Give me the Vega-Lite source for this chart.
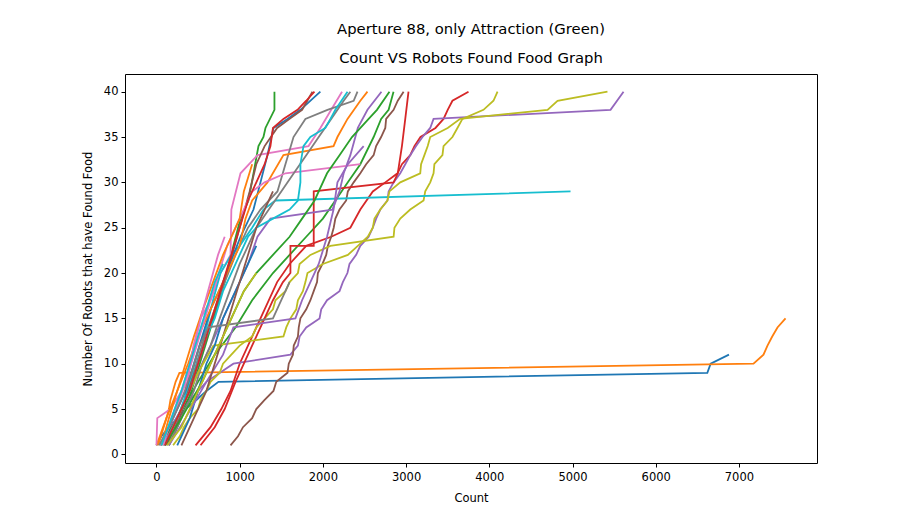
{
  "$schema": "https://vega.github.io/schema/vega-lite/v6.json",
  "width": 692,
  "height": 389,
  "autosize": "none",
  "padding": {"left": 125, "top": 74, "right": 89, "bottom": 59},
  "background": "white",
  "title": {
    "text": ["Aperture 88, only Attraction (Green)", "Count VS Robots Found Food Graph"],
    "anchor": "middle",
    "frame": "group",
    "font": "DejaVu Sans",
    "fontSize": 14.8,
    "fontWeight": "normal",
    "color": "#000",
    "lineHeight": 29,
    "offset": 8
  },
  "data": {
    "values": [
      {"s":"s01","x":0,"y":1},{"s":"s01","x":60,"y":2},{"s":"s01","x":150,"y":3},{"s":"s01","x":250,"y":4},{"s":"s01","x":350,"y":5},{"s":"s01","x":480,"y":6},{"s":"s01","x":600,"y":7},{"s":"s01","x":745,"y":8},{"s":"s01","x":6620,"y":9},{"s":"s01","x":6660,"y":10},{"s":"s01","x":6880,"y":11},

      {"s":"s02","x":0,"y":1},{"s":"s02","x":40,"y":2},{"s":"s02","x":80,"y":3},{"s":"s02","x":120,"y":4},{"s":"s02","x":150,"y":5},{"s":"s02","x":168,"y":6},{"s":"s02","x":230,"y":8},{"s":"s02","x":276,"y":9},{"s":"s02","x":7175,"y":10},{"s":"s02","x":7295,"y":11},{"s":"s02","x":7343,"y":12},{"s":"s02","x":7400,"y":13},{"s":"s02","x":7463,"y":14},{"s":"s02","x":7560,"y":15},

      {"s":"s03","x":150,"y":1},{"s":"s03","x":300,"y":4},{"s":"s03","x":420,"y":7},{"s":"s03","x":520,"y":10},{"s":"s03","x":620,"y":13},{"s":"s03","x":720,"y":16},{"s":"s03","x":820,"y":19},{"s":"s03","x":925,"y":23},{"s":"s03","x":1010,"y":26},{"s":"s03","x":1106,"y":28},{"s":"s03","x":1166,"y":31},{"s":"s03","x":1226,"y":34},{"s":"s03","x":1286,"y":35},{"s":"s03","x":1310,"y":36},{"s":"s03","x":1418,"y":38},{"s":"s03","x":1418,"y":40},

      {"s":"s04","x":470,"y":1},{"s":"s04","x":650,"y":3},{"s":"s04","x":780,"y":5},{"s":"s04","x":890,"y":7},{"s":"s04","x":1000,"y":10},{"s":"s04","x":1150,"y":13},{"s":"s04","x":1300,"y":16},{"s":"s04","x":1450,"y":19},{"s":"s04","x":1600,"y":21},{"s":"s04","x":1800,"y":23},{"s":"s04","x":2100,"y":24},{"s":"s04","x":2330,"y":25},{"s":"s04","x":2450,"y":27},{"s":"s04","x":2600,"y":29},{"s":"s04","x":2750,"y":30},{"s":"s04","x":2897,"y":31},{"s":"s04","x":2950,"y":32},{"s":"s04","x":3050,"y":33},{"s":"s04","x":3100,"y":34},{"s":"s04","x":3173,"y":35},{"s":"s04","x":3353,"y":36},{"s":"s04","x":3450,"y":37},{"s":"s04","x":3500,"y":38},{"s":"s04","x":3557,"y":39},{"s":"s04","x":3750,"y":40},

      {"s":"s05","x":50,"y":1},{"s":"s05","x":300,"y":5},{"s":"s05","x":600,"y":8},{"s":"s05","x":925,"y":10},{"s":"s05","x":1610,"y":11},{"s":"s05","x":1700,"y":12},{"s":"s05","x":1720,"y":13},{"s":"s05","x":1800,"y":14},{"s":"s05","x":1960,"y":15},{"s":"s05","x":1980,"y":16},{"s":"s05","x":2050,"y":17},{"s":"s05","x":2200,"y":18},{"s":"s05","x":2240,"y":19},{"s":"s05","x":2295,"y":20},{"s":"s05","x":2320,"y":21},{"s":"s05","x":2400,"y":22},{"s":"s05","x":2450,"y":23},{"s":"s05","x":2550,"y":24},{"s":"s05","x":2600,"y":25},{"s":"s05","x":2640,"y":26},{"s":"s05","x":2690,"y":27},{"s":"s05","x":2776,"y":28},{"s":"s05","x":2790,"y":29},{"s":"s05","x":2850,"y":30},{"s":"s05","x":2930,"y":31},{"s":"s05","x":2990,"y":32},{"s":"s05","x":3050,"y":33},{"s":"s05","x":3120,"y":34},{"s":"s05","x":3197,"y":35},{"s":"s05","x":3290,"y":36},{"s":"s05","x":3330,"y":37},{"s":"s05","x":5457,"y":38},{"s":"s05","x":5613,"y":40},

      {"s":"s06","x":890,"y":1},{"s":"s06","x":980,"y":2},{"s":"s06","x":1040,"y":3},{"s":"s06","x":1150,"y":4},{"s":"s06","x":1200,"y":5},{"s":"s06","x":1300,"y":6},{"s":"s06","x":1406,"y":7},{"s":"s06","x":1440,"y":8},{"s":"s06","x":1575,"y":9},{"s":"s06","x":1590,"y":10},{"s":"s06","x":1640,"y":11},{"s":"s06","x":1650,"y":12},{"s":"s06","x":1700,"y":13},{"s":"s06","x":1710,"y":14},{"s":"s06","x":1730,"y":15},{"s":"s06","x":1800,"y":16},{"s":"s06","x":1850,"y":17},{"s":"s06","x":1890,"y":18},{"s":"s06","x":1930,"y":19},{"s":"s06","x":1940,"y":20},{"s":"s06","x":1995,"y":21},{"s":"s06","x":2040,"y":22},{"s":"s06","x":2060,"y":23},{"s":"s06","x":2100,"y":24},{"s":"s06","x":2130,"y":25},{"s":"s06","x":2150,"y":26},{"s":"s06","x":2200,"y":27},{"s":"s06","x":2280,"y":28},{"s":"s06","x":2300,"y":29},{"s":"s06","x":2370,"y":30},{"s":"s06","x":2450,"y":31},{"s":"s06","x":2520,"y":32},{"s":"s06","x":2610,"y":33},{"s":"s06","x":2640,"y":34},{"s":"s06","x":2700,"y":35},{"s":"s06","x":2750,"y":36},{"s":"s06","x":2760,"y":37},{"s":"s06","x":2850,"y":38},{"s":"s06","x":2900,"y":39},{"s":"s06","x":2970,"y":40},

      {"s":"s07","x":0,"y":1},{"s":"s07","x":10,"y":4},{"s":"s07","x":168,"y":5},{"s":"s07","x":373,"y":8},{"s":"s07","x":445,"y":12},{"s":"s07","x":530,"y":15},{"s":"s07","x":650,"y":17},{"s":"s07","x":770,"y":20},{"s":"s07","x":890,"y":22},{"s":"s07","x":900,"y":27},{"s":"s07","x":1010,"y":31},{"s":"s07","x":1214,"y":33},{"s":"s07","x":1827,"y":34},{"s":"s07","x":1970,"y":36},{"s":"s07","x":2100,"y":38},{"s":"s07","x":2230,"y":40},

      {"s":"s08","x":100,"y":1},{"s":"s08","x":250,"y":4},{"s":"s08","x":380,"y":7},{"s":"s08","x":480,"y":10},{"s":"s08","x":580,"y":13},{"s":"s08","x":700,"y":16},{"s":"s08","x":820,"y":19},{"s":"s08","x":950,"y":22},{"s":"s08","x":1100,"y":25},{"s":"s08","x":1250,"y":27},{"s":"s08","x":1454,"y":29},{"s":"s08","x":1550,"y":32},{"s":"s08","x":1647,"y":35},{"s":"s08","x":1790,"y":37},{"s":"s08","x":2055,"y":38},{"s":"s08","x":2370,"y":39},{"s":"s08","x":2416,"y":40},

      {"s":"s09","x":200,"y":1},{"s":"s09","x":280,"y":2},{"s":"s09","x":330,"y":3},{"s":"s09","x":400,"y":4},{"s":"s09","x":500,"y":5},{"s":"s09","x":530,"y":6},{"s":"s09","x":600,"y":7},{"s":"s09","x":650,"y":8},{"s":"s09","x":760,"y":9},{"s":"s09","x":800,"y":10},{"s":"s09","x":900,"y":11},{"s":"s09","x":1000,"y":12},{"s":"s09","x":1150,"y":13},{"s":"s09","x":1200,"y":14},{"s":"s09","x":1300,"y":15},{"s":"s09","x":1400,"y":16},{"s":"s09","x":1430,"y":17},{"s":"s09","x":1550,"y":18},{"s":"s09","x":1600,"y":19},{"s":"s09","x":1700,"y":20},{"s":"s09","x":1720,"y":21},{"s":"s09","x":1850,"y":22},{"s":"s09","x":2090,"y":23},{"s":"s09","x":2850,"y":24},{"s":"s09","x":2860,"y":25},{"s":"s09","x":2930,"y":26},{"s":"s09","x":3050,"y":27},{"s":"s09","x":3210,"y":28},{"s":"s09","x":3230,"y":29},{"s":"s09","x":3290,"y":30},{"s":"s09","x":3330,"y":31},{"s":"s09","x":3340,"y":32},{"s":"s09","x":3437,"y":33},{"s":"s09","x":3450,"y":34},{"s":"s09","x":3557,"y":35},{"s":"s09","x":3617,"y":36},{"s":"s09","x":3677,"y":37},{"s":"s09","x":3930,"y":38},{"s":"s09","x":4050,"y":39},{"s":"s09","x":4099,"y":40},

      {"s":"s10","x":100,"y":1},{"s":"s10","x":220,"y":3},{"s":"s10","x":330,"y":6},{"s":"s10","x":430,"y":9},{"s":"s10","x":520,"y":12},{"s":"s10","x":600,"y":14},{"s":"s10","x":680,"y":17},{"s":"s10","x":770,"y":20},{"s":"s10","x":900,"y":22},{"s":"s10","x":1000,"y":23},{"s":"s10","x":1150,"y":25},{"s":"s10","x":1286,"y":27},{"s":"s10","x":1430,"y":28},{"s":"s10","x":4976,"y":29},

      {"s":"s11","x":50,"y":1},{"s":"s11","x":200,"y":4},{"s":"s11","x":350,"y":7},{"s":"s11","x":450,"y":10},{"s":"s11","x":550,"y":13},{"s":"s11","x":650,"y":16},{"s":"s11","x":800,"y":19},{"s":"s11","x":925,"y":22},{"s":"s11","x":1010,"y":24},{"s":"s11","x":1166,"y":27},{"s":"s11","x":1250,"y":30},{"s":"s11","x":1334,"y":33},{"s":"s11","x":1406,"y":36},{"s":"s11","x":1575,"y":37},{"s":"s11","x":1730,"y":38},{"s":"s11","x":1970,"y":40},

      {"s":"s12","x":20,"y":1},{"s":"s12","x":120,"y":4},{"s":"s12","x":250,"y":7},{"s":"s12","x":380,"y":10},{"s":"s12","x":500,"y":13},{"s":"s12","x":650,"y":16},{"s":"s12","x":800,"y":19},{"s":"s12","x":900,"y":21},{"s":"s12","x":1000,"y":23},{"s":"s12","x":1070,"y":26},{"s":"s12","x":1150,"y":28},{"s":"s12","x":1334,"y":30},{"s":"s12","x":1526,"y":33},{"s":"s12","x":2128,"y":34},{"s":"s12","x":2175,"y":35},{"s":"s12","x":2296,"y":37},{"s":"s12","x":2450,"y":39},{"s":"s12","x":2536,"y":40},

      {"s":"s13","x":50,"y":1},{"s":"s13","x":250,"y":4},{"s":"s13","x":500,"y":8},{"s":"s13","x":700,"y":11},{"s":"s13","x":950,"y":14},{"s":"s13","x":1150,"y":17},{"s":"s13","x":1400,"y":20},{"s":"s13","x":1600,"y":22},{"s":"s13","x":1800,"y":24},{"s":"s13","x":2000,"y":26},{"s":"s13","x":2150,"y":28},{"s":"s13","x":2300,"y":30},{"s":"s13","x":2450,"y":32},{"s":"s13","x":2610,"y":35},{"s":"s13","x":2700,"y":37},{"s":"s13","x":2790,"y":38},{"s":"s13","x":2849,"y":40},

      {"s":"s14","x":530,"y":1},{"s":"s14","x":700,"y":3},{"s":"s14","x":820,"y":5},{"s":"s14","x":950,"y":8},{"s":"s14","x":1100,"y":11},{"s":"s14","x":1250,"y":14},{"s":"s14","x":1400,"y":17},{"s":"s14","x":1520,"y":19},{"s":"s14","x":1610,"y":20},{"s":"s14","x":1610,"y":23},{"s":"s14","x":1890,"y":23},{"s":"s14","x":1890,"y":29},{"s":"s14","x":2850,"y":30},{"s":"s14","x":2900,"y":31},{"s":"s14","x":2950,"y":34},{"s":"s14","x":2990,"y":37},{"s":"s14","x":3029,"y":40},

      {"s":"s15","x":80,"y":1},{"s":"s15","x":250,"y":4},{"s":"s15","x":450,"y":8},{"s":"s15","x":650,"y":12},{"s":"s15","x":850,"y":16},{"s":"s15","x":1000,"y":19},{"s":"s15","x":1100,"y":21},{"s":"s15","x":1214,"y":24},{"s":"s15","x":1370,"y":26},{"s":"s15","x":2115,"y":27},{"s":"s15","x":2200,"y":29},{"s":"s15","x":2250,"y":31},{"s":"s15","x":2330,"y":33},{"s":"s15","x":2420,"y":36},{"s":"s15","x":2536,"y":38},{"s":"s15","x":2704,"y":40},

      {"s":"s16","x":120,"y":1},{"s":"s16","x":280,"y":4},{"s":"s16","x":420,"y":8},{"s":"s16","x":540,"y":11},{"s":"s16","x":640,"y":14},{"s":"s16","x":740,"y":17},{"s":"s16","x":840,"y":20},{"s":"s16","x":940,"y":23},{"s":"s16","x":1030,"y":26},{"s":"s16","x":1120,"y":29},{"s":"s16","x":1200,"y":32},{"s":"s16","x":1300,"y":34},{"s":"s16","x":1450,"y":36},{"s":"s16","x":1600,"y":37},{"s":"s16","x":1750,"y":38},{"s":"s16","x":1875,"y":40},

      {"s":"s17","x":50,"y":1},{"s":"s17","x":200,"y":4},{"s":"s17","x":350,"y":8},{"s":"s17","x":450,"y":11},{"s":"s17","x":550,"y":14},{"s":"s17","x":650,"y":17},{"s":"s17","x":750,"y":20},{"s":"s17","x":850,"y":23},{"s":"s17","x":950,"y":25},{"s":"s17","x":1050,"y":27},{"s":"s17","x":1150,"y":29},{"s":"s17","x":1300,"y":30},{"s":"s17","x":1550,"y":31},{"s":"s17","x":2450,"y":32},

      {"s":"s18","x":150,"y":1},{"s":"s18","x":300,"y":4},{"s":"s18","x":450,"y":7},{"s":"s18","x":550,"y":10},{"s":"s18","x":650,"y":12},{"s":"s18","x":760,"y":15},{"s":"s18","x":880,"y":18},{"s":"s18","x":1000,"y":21},{"s":"s18","x":1100,"y":23},{"s":"s18","x":1200,"y":25},{"s":"s18","x":1350,"y":27},{"s":"s18","x":1500,"y":29},{"s":"s18","x":1650,"y":31},{"s":"s18","x":1800,"y":33},{"s":"s18","x":1950,"y":35},{"s":"s18","x":2100,"y":37},{"s":"s18","x":2250,"y":39},{"s":"s18","x":2330,"y":40},

      {"s":"s19","x":100,"y":1},{"s":"s19","x":300,"y":5},{"s":"s19","x":500,"y":9},{"s":"s19","x":685,"y":12},{"s":"s19","x":1526,"y":13},{"s":"s19","x":1560,"y":14},{"s":"s19","x":1610,"y":15},{"s":"s19","x":1680,"y":16},{"s":"s19","x":1700,"y":17},{"s":"s19","x":1760,"y":18},{"s":"s19","x":1790,"y":19},{"s":"s19","x":1815,"y":20},{"s":"s19","x":2000,"y":21},{"s":"s19","x":2300,"y":22},{"s":"s19","x":2420,"y":23},{"s":"s19","x":2540,"y":24},{"s":"s19","x":2600,"y":25},{"s":"s19","x":2620,"y":26},{"s":"s19","x":2690,"y":27},{"s":"s19","x":2776,"y":28},{"s":"s19","x":2800,"y":29},{"s":"s19","x":2930,"y":30},{"s":"s19","x":3170,"y":31},{"s":"s19","x":3180,"y":32},{"s":"s19","x":3220,"y":33},{"s":"s19","x":3260,"y":34},{"s":"s19","x":3290,"y":35},{"s":"s19","x":3500,"y":36},{"s":"s19","x":3650,"y":37},{"s":"s19","x":4700,"y":38},{"s":"s19","x":4820,"y":39},{"s":"s19","x":5420,"y":40},

      {"s":"s20","x":100,"y":1},{"s":"s20","x":250,"y":4},{"s":"s20","x":400,"y":7},{"s":"s20","x":500,"y":10},{"s":"s20","x":600,"y":13},{"s":"s20","x":700,"y":15},{"s":"s20","x":800,"y":18},{"s":"s20","x":900,"y":20},{"s":"s20","x":1000,"y":22},{"s":"s20","x":1100,"y":24},{"s":"s20","x":1200,"y":25},{"s":"s20","x":1400,"y":26},{"s":"s20","x":1600,"y":27},{"s":"s20","x":1700,"y":28},{"s":"s20","x":1730,"y":30},{"s":"s20","x":1730,"y":32},{"s":"s20","x":1767,"y":34},{"s":"s20","x":1850,"y":35},{"s":"s20","x":2030,"y":36},{"s":"s20","x":2091,"y":37},{"s":"s20","x":2150,"y":38},{"s":"s20","x":2296,"y":40},

      {"s":"s21","x":250,"y":1},{"s":"s21","x":400,"y":4},{"s":"s21","x":500,"y":7},{"s":"s21","x":600,"y":10},{"s":"s21","x":700,"y":12},{"s":"s21","x":800,"y":15},{"s":"s21","x":900,"y":17},{"s":"s21","x":1000,"y":19},{"s":"s21","x":1100,"y":21},{"s":"s21","x":1200,"y":23},

      {"s":"s22","x":60,"y":1},{"s":"s22","x":150,"y":4},{"s":"s22","x":250,"y":7},{"s":"s22","x":350,"y":10},{"s":"s22","x":450,"y":13},{"s":"s22","x":560,"y":16},{"s":"s22","x":680,"y":19},{"s":"s22","x":800,"y":22},{"s":"s22","x":900,"y":24},{"s":"s22","x":1000,"y":26},{"s":"s22","x":1050,"y":29},{"s":"s22","x":1150,"y":32},

      {"s":"s23","x":100,"y":1},{"s":"s23","x":300,"y":4},{"s":"s23","x":550,"y":8},{"s":"s23","x":750,"y":12},{"s":"s23","x":900,"y":15},{"s":"s23","x":1050,"y":18},{"s":"s23","x":1200,"y":20},{"s":"s23","x":1400,"y":22},{"s":"s23","x":1600,"y":24},{"s":"s23","x":1750,"y":26},{"s":"s23","x":1900,"y":28},{"s":"s23","x":2050,"y":31},{"s":"s23","x":2200,"y":33},{"s":"s23","x":2350,"y":35},{"s":"s23","x":2550,"y":37},{"s":"s23","x":2650,"y":38},{"s":"s23","x":2800,"y":40},

      {"s":"s24","x":100,"y":1},{"s":"s24","x":250,"y":4},{"s":"s24","x":400,"y":7},{"s":"s24","x":500,"y":10},{"s":"s24","x":600,"y":13},{"s":"s24","x":700,"y":16},{"s":"s24","x":800,"y":19},{"s":"s24","x":900,"y":22},{"s":"s24","x":1000,"y":25},{"s":"s24","x":1100,"y":28},{"s":"s24","x":1200,"y":30},{"s":"s24","x":1300,"y":32},{"s":"s24","x":1370,"y":34},{"s":"s24","x":1400,"y":36},{"s":"s24","x":1526,"y":37},{"s":"s24","x":1695,"y":38},{"s":"s24","x":1800,"y":39},{"s":"s24","x":1899,"y":40},

      {"s":"s25","x":150,"y":1},{"s":"s25","x":350,"y":4},{"s":"s25","x":600,"y":8},{"s":"s25","x":800,"y":11},{"s":"s25","x":925,"y":14},{"s":"s25","x":1670,"y":15},{"s":"s25","x":1750,"y":17},{"s":"s25","x":1850,"y":19},{"s":"s25","x":1950,"y":21},{"s":"s25","x":2050,"y":24},{"s":"s25","x":2128,"y":27},{"s":"s25","x":2175,"y":30},{"s":"s25","x":2300,"y":32},{"s":"s25","x":2490,"y":34},

      {"s":"s26","x":300,"y":1},{"s":"s26","x":450,"y":4},{"s":"s26","x":600,"y":7},{"s":"s26","x":700,"y":10},{"s":"s26","x":800,"y":13},{"s":"s26","x":900,"y":16},{"s":"s26","x":1000,"y":19},{"s":"s26","x":1100,"y":22},{"s":"s26","x":1200,"y":25},{"s":"s26","x":1300,"y":27},{"s":"s26","x":1400,"y":29},

      {"s":"s27","x":80,"y":1},{"s":"s27","x":180,"y":4},{"s":"s27","x":300,"y":7},{"s":"s27","x":400,"y":10},{"s":"s27","x":480,"y":13},{"s":"s27","x":560,"y":16},{"s":"s27","x":650,"y":19},{"s":"s27","x":740,"y":22},{"s":"s27","x":820,"y":24},

      {"s":"s28","x":30,"y":1},{"s":"s28","x":150,"y":3},{"s":"s28","x":300,"y":6},{"s":"s28","x":420,"y":9},{"s":"s28","x":520,"y":12},{"s":"s28","x":620,"y":14},{"s":"s28","x":1400,"y":15},{"s":"s28","x":1500,"y":17},{"s":"s28","x":1600,"y":19},

      {"s":"s29","x":130,"y":1},{"s":"s29","x":300,"y":3},{"s":"s29","x":450,"y":6},{"s":"s29","x":600,"y":9},{"s":"s29","x":750,"y":12},{"s":"s29","x":900,"y":15},{"s":"s29","x":1050,"y":18},{"s":"s29","x":1200,"y":20},

      {"s":"s30","x":60,"y":1},{"s":"s30","x":180,"y":4},{"s":"s30","x":300,"y":7},{"s":"s30","x":400,"y":10},{"s":"s30","x":500,"y":13},{"s":"s30","x":600,"y":16},{"s":"s30","x":700,"y":19},{"s":"s30","x":800,"y":21}
    ]
  },
  "mark": {"type": "line", "strokeWidth": 1.8, "clip": true},
  "encoding": {
    "x": {
      "field": "x",
      "type": "quantitative",
      "scale": {"domain": [-378, 7938], "nice": false, "zero": false},
      "axis": {
        "title": "Count",
        "values": [0, 1000, 2000, 3000, 4000, 5000, 6000, 7000],
        "format": "d",
        "grid": false,
        "domain": false,
        "tickColor": "#000",
        "tickSize": 4,
        "labelPadding": 4,
        "titlePadding": 10
      }
    },
    "y": {
      "field": "y",
      "type": "quantitative",
      "scale": {"domain": [-0.95, 41.95], "nice": false, "zero": false},
      "axis": {
        "title": "Number Of Robots that have Found Food",
        "values": [0, 5, 10, 15, 20, 25, 30, 35, 40],
        "format": "d",
        "grid": false,
        "domain": false,
        "tickColor": "#000",
        "tickSize": 4,
        "labelPadding": 3,
        "titlePadding": 10
      }
    },
    "color": {
      "field": "s",
      "type": "nominal",
      "legend": null,
      "scale": {
        "domain": ["s01","s02","s03","s04","s05","s06","s07","s08","s09","s10","s11","s12","s13","s14","s15","s16","s17","s18","s19","s20","s21","s22","s23","s24","s25","s26","s27","s28","s29","s30"],
        "range": ["#1f77b4","#ff7f0e","#2ca02c","#d62728","#9467bd","#8c564b","#e377c2","#7f7f7f","#bcbd22","#17becf","#1f77b4","#ff7f0e","#2ca02c","#d62728","#9467bd","#8c564b","#e377c2","#7f7f7f","#bcbd22","#17becf","#1f77b4","#ff7f0e","#2ca02c","#d62728","#9467bd","#8c564b","#e377c2","#7f7f7f","#bcbd22","#17becf"]
      }
    },
    "order": {"value": null}
  },
  "config": {
    "view": {"stroke": "#000", "strokeWidth": 1},
    "axis": {
      "labelFont": "DejaVu Sans",
      "labelFontSize": 11.5,
      "labelColor": "#000",
      "titleFont": "DejaVu Sans",
      "titleFontSize": 11.5,
      "titleFontWeight": "normal",
      "titleColor": "#000"
    }
  }
}
